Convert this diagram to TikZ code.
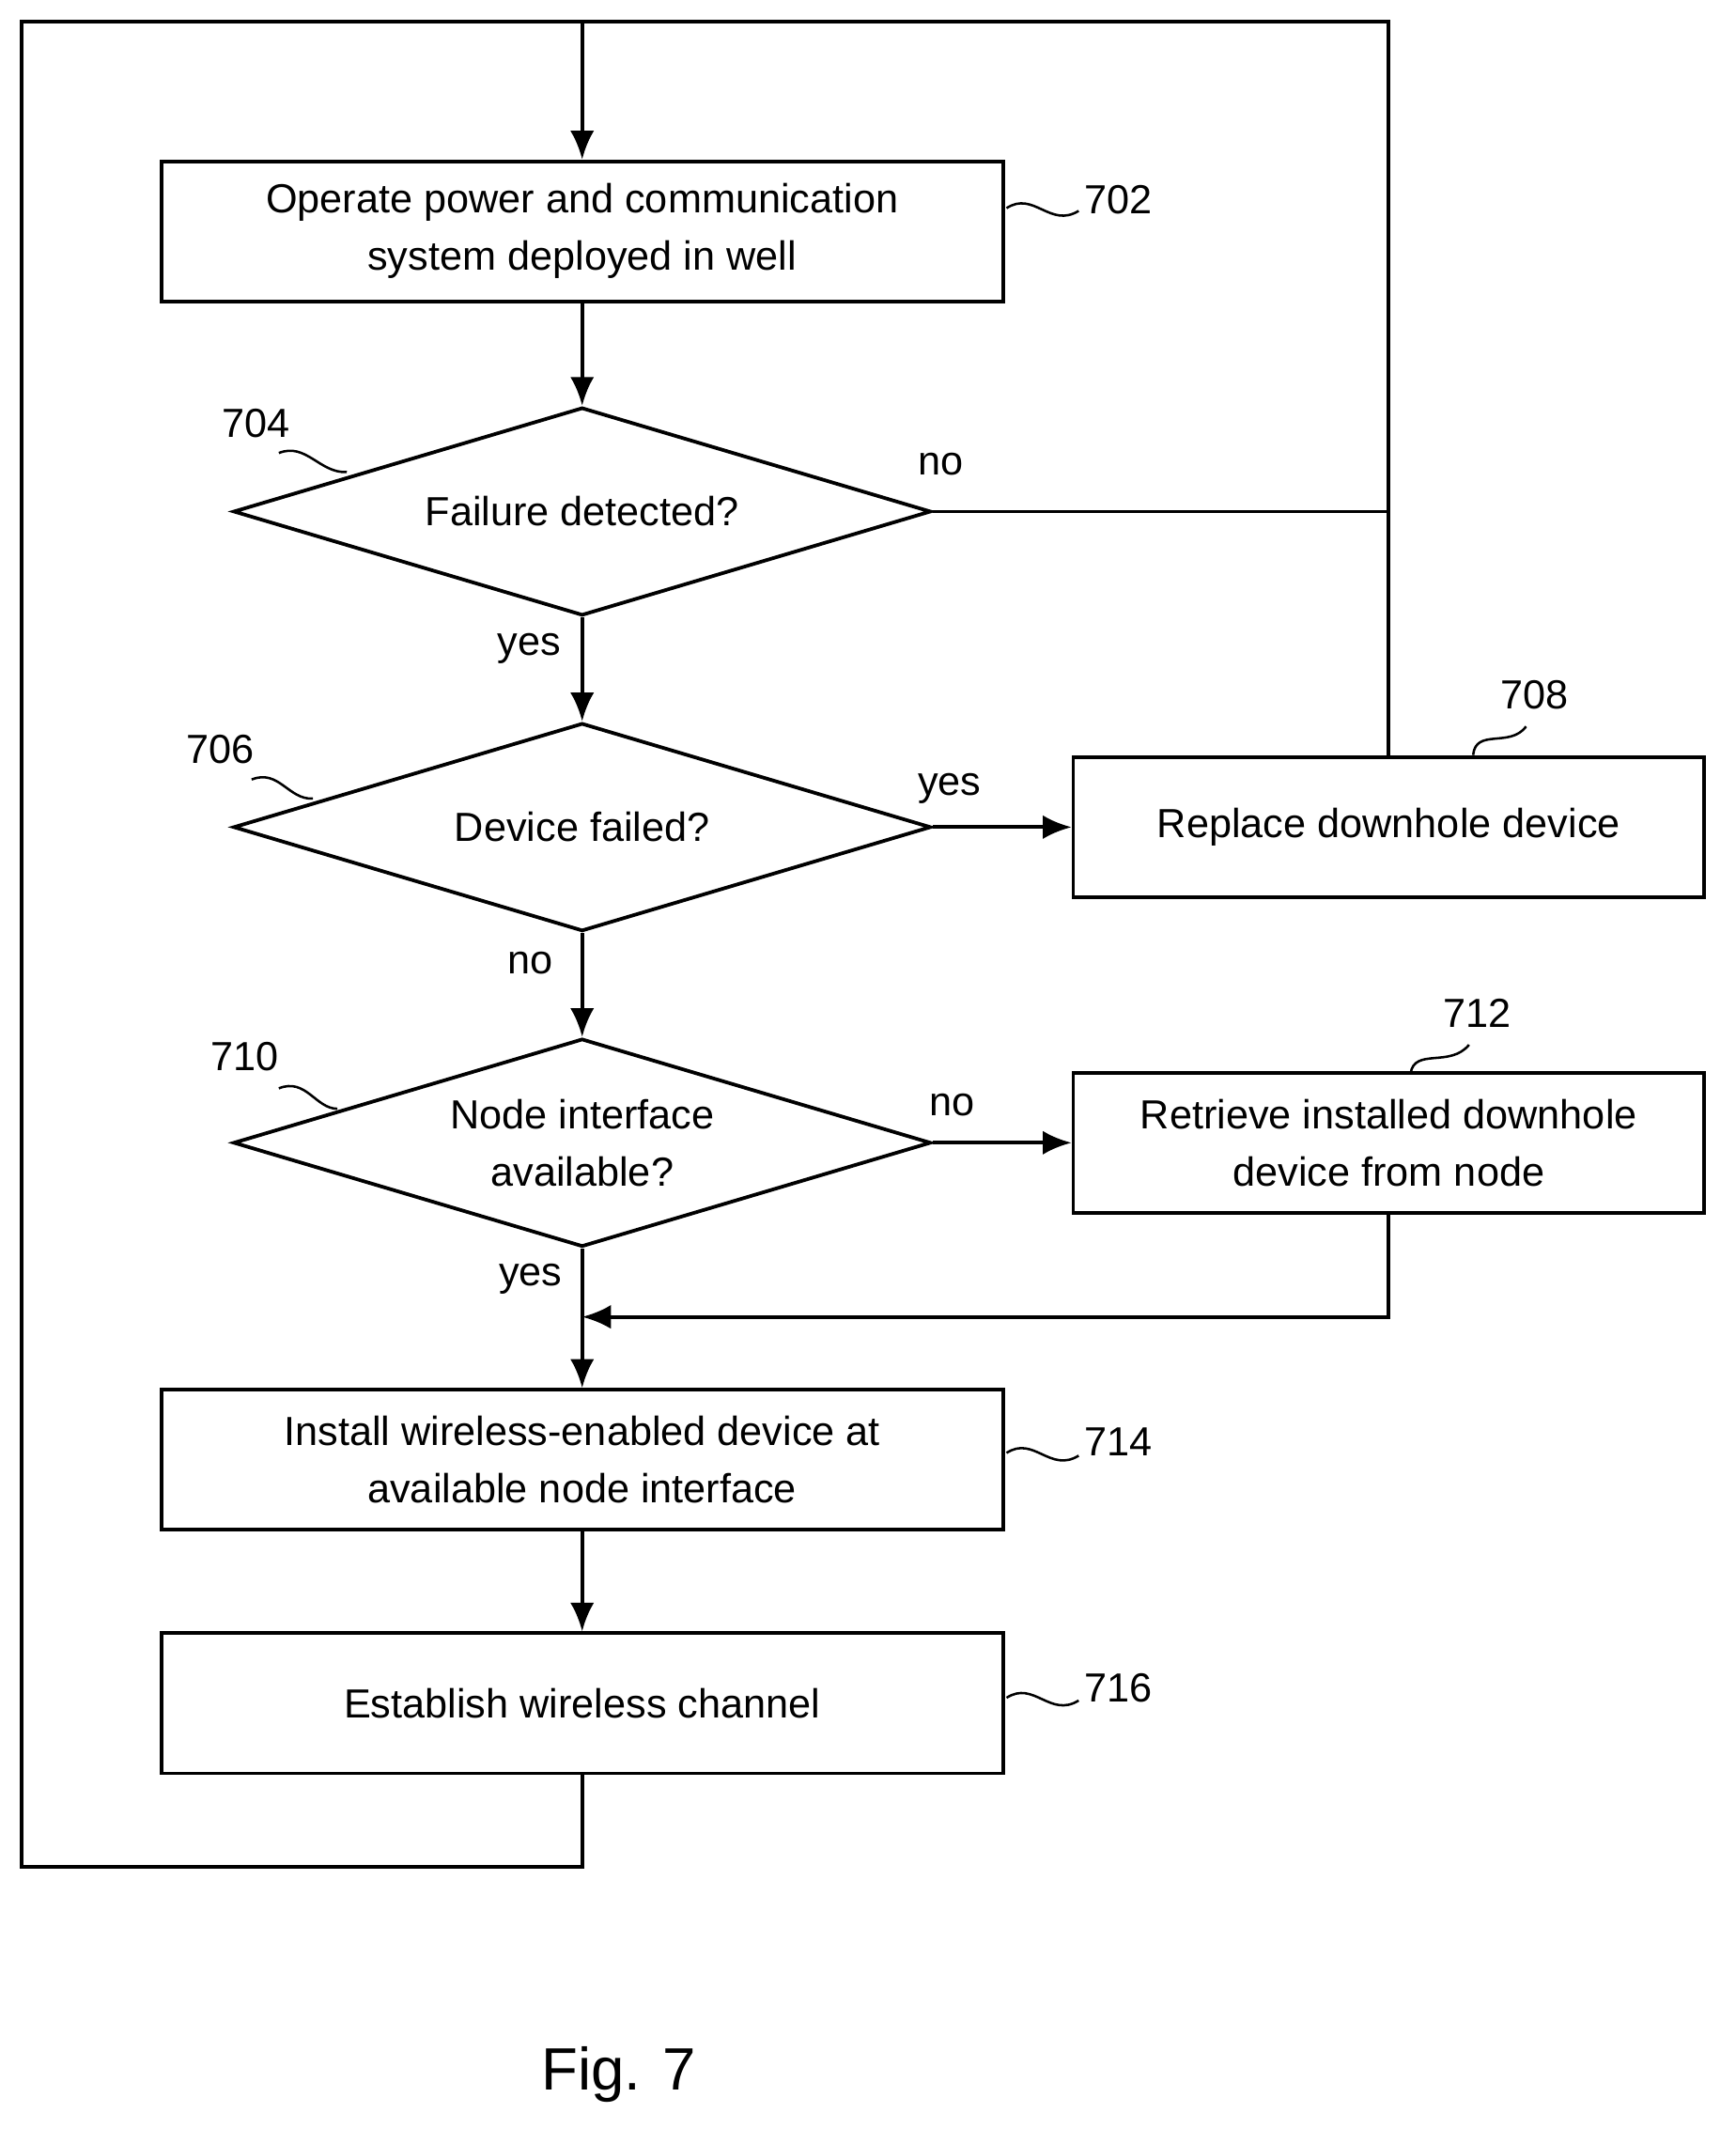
\documentclass[tikz,border=0pt]{standalone}
\usepackage{fontspec}
\setmainfont{Liberation Sans}
\usetikzlibrary{shapes.geometric,arrows.meta}

\begin{document}
\begin{tikzpicture}[x=0.02cm,y=-0.02cm]

		% Define styles
		\tikzstyle{process} = [
		rectangle, minimum width=12.38cm, minimum height=2.06cm,
		text centered, draw=black, line width=1.5pt, align=center,
		font=\fontsize{17}{24}\selectfont]
		\tikzstyle{side} = [process, minimum width=9.28cm]
		\tikzstyle{decision} = [
		diamond, aspect=3.35, minimum width=10.26cm, minimum height=3.06cm,
		inner sep=0pt, text centered, draw=black, line width=1.5pt,
		align=center, font=\fontsize{17}{24}\selectfont]
		\tikzstyle{arrow} = [line width=1.5pt,-{Latex[length=12pt,width=10pt]}]
		\tikzstyle{line} = [line width=1.5pt]
		\tikzstyle{lbl} = [font=\fontsize{17}{20}\selectfont]
		\tikzstyle{refline} = [line width=1pt]

		\useasboundingbox (0,0) rectangle (1276,1576);

		% Nodes
		\node (op) [process] at (428,170) {Operate power and communication\\system deployed in well};
		\node (fail) [decision] at (428,376) {Failure detected?};
		\node (dev) [decision] at (428,608) {Device failed?};
		\node (repl) [side] at (1021,608) {Replace downhole device};
		\node (iface) [decision] at (428,840) {Node interface\\available?};
		\node (retr) [side] at (1021,840) {Retrieve installed downhole\\device from node};
		\node (inst) [process] at (428,1073) {Install wireless-enabled device at\\available node interface};
		\node (est) [process] at (428,1252) {Establish wireless channel};

		\coordinate (top) at (428,16);
		\coordinate (merge) at (428,968);

		% Arrows
		\draw [line] (est.south) |- (16,1372) |- (1021,16) -- (repl.north);
		\draw [arrow] (top) -- (op);
		\draw [arrow] (op) -- (fail);
		\draw [line] (fail.east) -- (1021,376);
		\draw [arrow] (fail) -- (dev);
		\draw [arrow] (dev) -- (repl);
		\draw [arrow] (dev) -- (iface);
		\draw [arrow] (iface) -- (retr);
		\draw [arrow] (retr.south) |- (merge);
		\draw [arrow] (iface) -- (inst);
		\draw [arrow] (inst) -- (est);

		% Branch labels
		\node [lbl] at (692,341) {no};
		\node [lbl] at (389,477) {yes};
		\node [lbl] at (698,580) {yes};
		\node [lbl] at (390,708) {no};
		\node [lbl] at (700,812) {no};
		\node [lbl] at (390,940) {yes};

		% Reference numbers
		\node [lbl] at (822,147) {702};
		\draw [refline] (740,153) .. controls (760,140) and (772,168) .. (793,155);
		\node [lbl] at (188,311) {704};
		\draw [refline] (205,333) .. controls (225,325) and (235,348) .. (255,347);
		\node [lbl] at (162,551) {706};
		\draw [refline] (185,573) .. controls (205,565) and (212,588) .. (230,587);
		\node [lbl] at (1128,511) {708};
		\draw [refline] (1083,555) .. controls (1085,535) and (1110,550) .. (1122,534);
		\node [lbl] at (180,777) {710};
		\draw [refline] (205,800) .. controls (225,792) and (232,815) .. (248,815);
		\node [lbl] at (1086,745) {712};
		\draw [refline] (1037,789) .. controls (1040,770) and (1066,785) .. (1080,768);
		\node [lbl] at (822,1060) {714};
		\draw [refline] (740,1068) .. controls (760,1055) and (772,1083) .. (793,1070);
		\node [lbl] at (822,1241) {716};
		\draw [refline] (740,1248) .. controls (760,1235) and (772,1263) .. (793,1250);

		\node [font=\fontsize{25}{30}\selectfont] at (455,1525) {Fig. 7};
	\end{tikzpicture}
\end{document}
